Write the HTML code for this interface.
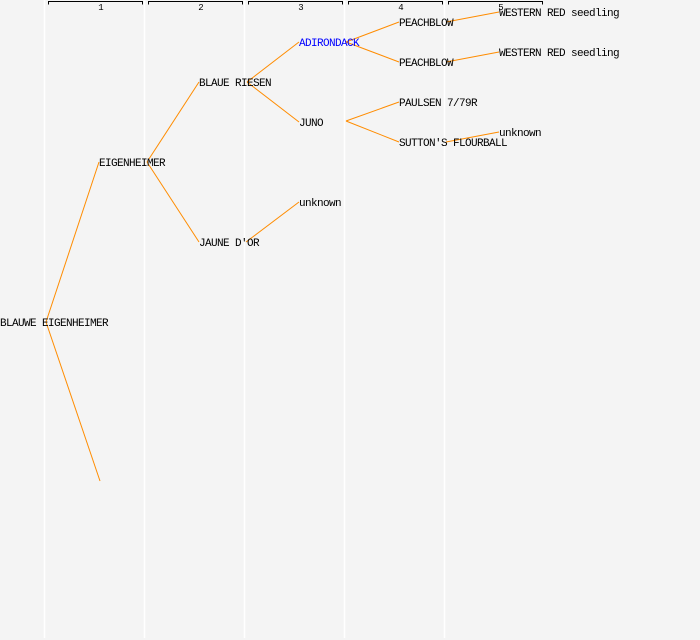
<!DOCTYPE html>
<html><head><meta charset="utf-8"><style>
html,body{margin:0;padding:0;background:#f4f4f4;}
svg{display:block;}
text{font-family:"Liberation Mono","DejaVu Sans Mono",monospace;font-size:11px;letter-spacing:-0.6px;fill:#000;}
text.n{font-size:9px;letter-spacing:0;}
</style></head><body>
<svg width="700" height="640" xmlns="http://www.w3.org/2000/svg">
<rect width="700" height="640" fill="#f4f4f4"/>
<g stroke="#ffffff" stroke-width="1.5">
<line x1="44.5" y1="0" x2="44.5" y2="638"/>
<line x1="144.5" y1="0" x2="144.5" y2="638"/>
<line x1="244.5" y1="0" x2="244.5" y2="638"/>
<line x1="344.5" y1="0" x2="344.5" y2="638"/>
<line x1="444.5" y1="0" x2="444.5" y2="638"/>
</g>
<g stroke="#000" stroke-width="1" fill="none">
<path d="M48.5 4.5V1.5H142.5V4.5"/>
<path d="M148.5 4.5V1.5H242.5V4.5"/>
<path d="M248.5 4.5V1.5H342.5V4.5"/>
<path d="M348.5 4.5V1.5H442.5V4.5"/>
<path d="M448.5 4.5V1.5H542.5V4.5"/>
</g>
<g text-anchor="middle">
<text class="n" x="101" y="10">1</text>
<text class="n" x="201" y="10">2</text>
<text class="n" x="301" y="10">3</text>
<text class="n" x="401" y="10">4</text>
<text class="n" x="501" y="10">5</text>
</g>
<g stroke="#ff8c00" stroke-width="1" fill="none">
<line x1="46" y1="322" x2="99" y2="162"/>
<line x1="46" y1="322" x2="100" y2="481"/>
<line x1="147" y1="162" x2="199" y2="82"/>
<line x1="147" y1="162" x2="199" y2="242"/>
<line x1="247" y1="82" x2="299" y2="42"/>
<line x1="247" y1="82" x2="299" y2="122"/>
<line x1="246" y1="242" x2="299" y2="202"/>
<line x1="346" y1="42" x2="399" y2="22"/>
<line x1="346" y1="42" x2="399" y2="62"/>
<line x1="346" y1="121" x2="399" y2="102"/>
<line x1="346" y1="121" x2="399" y2="142"/>
<line x1="446" y1="22" x2="499" y2="12"/>
<line x1="446" y1="62" x2="499" y2="52"/>
<line x1="446" y1="142" x2="499" y2="132"/>
</g>
<text x="0" y="326">BLAUWE EIGENHEIMER</text>
<text x="99" y="166">EIGENHEIMER</text>
<text x="199" y="86">BLAUE RIESEN</text>
<text x="199" y="246">JAUNE D'OR</text>
<text x="299" y="46" style="fill:#0000ff">ADIRONDACK</text>
<text x="299" y="126">JUNO</text>
<text x="299" y="206">unknown</text>
<text x="399" y="26">PEACHBLOW</text>
<text x="399" y="66">PEACHBLOW</text>
<text x="399" y="106">PAULSEN 7/79R</text>
<text x="399" y="146">SUTTON'S FLOURBALL</text>
<text x="499" y="16">WESTERN RED seedling</text>
<text x="499" y="56">WESTERN RED seedling</text>
<text x="499" y="136">unknown</text>
</svg>
</body></html>
